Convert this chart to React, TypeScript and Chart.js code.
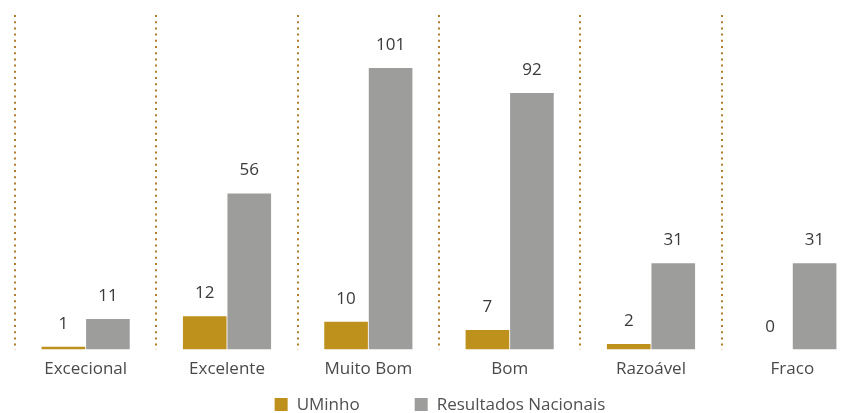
import React, { useEffect, useRef } from "react";
import { Chart, registerables } from "chart.js";

Chart.register(...registerables);

const categories = ["Excecional", "Excelente", "Muito Bom", "Bom", "Razoável", "Fraco"];
const uminho = [1, 12, 10, 7, 2, 0];
const nacionais = [11, 56, 101, 92, 31, 31];
const seriesNames = ["UMinho", "Resultados Nacionais"];
const seriesColors = ["#BE901C", "#9D9D9C"];

const FONT = "'Open Sans', 'Noto Sans', sans-serif";
const FS = 17;

const valueLabels = {
  id: "valueLabels",
  afterDatasetsDraw(chart: any) {
    const ctx = chart.ctx;
    ctx.save();
    ctx.font = `${FS}px ${FONT}`;
    ctx.fillStyle = "#3a3a3a";
    ctx.textAlign = "center";
    ctx.textBaseline = "alphabetic";
    chart.data.datasets.forEach((ds: any, di: number) => {
      const meta = chart.getDatasetMeta(di);
      meta.data.forEach((el: any, i: number) => {
        ctx.fillText(String(ds.data[i]), el.x, el.y - 18);
      });
    });
    ctx.restore();
  },
};

const bottomLegend = {
  id: "bottomLegend",
  afterDraw(chart: any) {
    const ctx = chart.ctx;
    ctx.save();
    ctx.font = `${FS}px ${FONT}`;
    const box = 13;
    const gapText = 9;
    const gapItem = 55;
    const items = chart.data.datasets.map((ds: any) => ({
      text: ds.label,
      color: ds.backgroundColor,
      w: box + gapText + ctx.measureText(ds.label).width,
    }));
    const total = items.reduce((s: number, it: any) => s + it.w, 0) + gapItem * (items.length - 1);
    let x = 440 - total / 2;
    const yBox = 398;
    items.forEach((it: any) => {
      ctx.fillStyle = it.color;
      ctx.fillRect(x, yBox, box, box);
      ctx.fillStyle = "#505050";
      ctx.textBaseline = "middle";
      ctx.textAlign = "left";
      ctx.fillText(it.text, x + box + gapText, yBox + box / 2 + 1);
      x += it.w + gapItem;
    });
    ctx.restore();
  },
};

export default function App() {
  const ref = useRef<HTMLCanvasElement | null>(null);
  useEffect(() => {
    if (!ref.current) return;
    const chart = new Chart(ref.current, {
      type: "bar",
      data: {
        labels: categories,
        datasets: [
          { label: seriesNames[0], data: uminho, backgroundColor: seriesColors[0] },
          { label: seriesNames[1], data: nacionais, backgroundColor: seriesColors[1] },
        ],
      },
      options: {
        responsive: false,
        animation: false,
        layout: { padding: { left: 15, right: 15, top: 15, bottom: 25 } },
        datasets: { bar: { categoryPercentage: 0.63, barPercentage: 0.98 } },
        plugins: { legend: { display: false }, tooltip: { enabled: false } },
        scales: {
          x: {
            offset: true,
            grid: {
              display: true,
              offset: true,
              color: "#B07D2E",
              lineWidth: 2,
              drawTicks: false,
            },
            border: { display: false, dash: [2, 4.2] },
            ticks: { color: "#4a4a4a", padding: 9, font: { family: FONT, size: FS } },
          },
          y: {
            display: false,
            min: 0,
            max: 120,
          },
        },
      },
      plugins: [valueLabels, bottomLegend],
    } as any);
    return () => chart.destroy();
  }, []);
  return (
    <div style={{ position: "absolute", left: 0, top: 0, width: 851, height: 413, overflow: "hidden", background: "#fff" }}>
      <canvas ref={ref} width={878} height={413} style={{ display: "block" }} />
    </div>
  );
}
